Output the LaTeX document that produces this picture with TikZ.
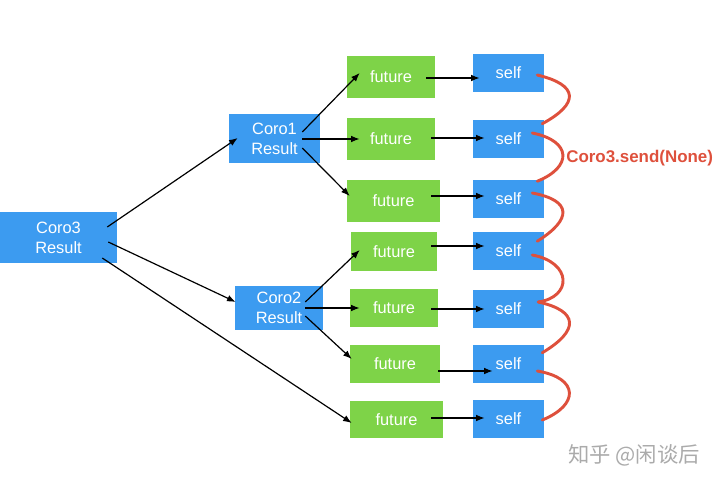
\documentclass[tikz,border=0pt]{standalone}
\usepackage{fontspec}
\setmainfont{Liberation Sans}
\newfontfamily\cjk{Noto Sans CJK SC}
\usetikzlibrary{arrows.meta}
\definecolor{boxblue}{RGB}{60,155,240}
\definecolor{boxgreen}{RGB}{126,211,72}
\definecolor{wavered}{RGB}{222,80,60}
\begin{document}
\begin{tikzpicture}[x=0.75pt,y=-0.75pt,
  bluebox/.style={fill=boxblue,draw=none,text=white,align=center,inner sep=0pt,font=\fontsize{12.3}{15}\selectfont},
  greenbox/.style={fill=boxgreen,draw=none,text=white,align=center,inner sep=0pt,font=\fontsize{12.3}{15}\selectfont},
  selfbox/.style={bluebox,minimum width=71*0.75pt,minimum height=38*0.75pt},
  arr/.style={-{Latex[length=6.5pt,width=5pt]},line width=0.9pt,black},
  wave/.style={wavered,line width=2.2pt,line cap=round}]
\useasboundingbox (0,0) rectangle (720,485);
% main nodes
\node[bluebox,minimum width=117*0.75pt,minimum height=51*0.75pt] (c3) at (58.5,237.5) {Coro3\\Result};
\node[bluebox,minimum width=91*0.75pt,minimum height=49*0.75pt] (c1) at (274.5,138.5) {Coro1\\Result};
\node[bluebox,minimum width=88*0.75pt,minimum height=44*0.75pt] (c2) at (279,308) {Coro2\\Result};
% futures
\node[greenbox,minimum width=88*0.75pt,minimum height=42*0.75pt] (f1) at (391,77) {future};
\node[greenbox,minimum width=88*0.75pt,minimum height=42*0.75pt] (f2) at (391,139) {future};
\node[greenbox,minimum width=93*0.75pt,minimum height=42*0.75pt] (f3) at (393.5,201) {future};
\node[greenbox,minimum width=86*0.75pt,minimum height=39*0.75pt] (f4) at (394,251.5) {future};
\node[greenbox,minimum width=88*0.75pt,minimum height=38*0.75pt] (f5) at (394,308) {future};
\node[greenbox,minimum width=90*0.75pt,minimum height=38*0.75pt] (f6) at (395,364) {future};
\node[greenbox,minimum width=93*0.75pt,minimum height=37*0.75pt] (f7) at (396.5,419.5) {future};
% selfs
\node[selfbox] (s1) at (508.5,73) {self};
\node[selfbox] (s2) at (508.5,139) {self};
\node[selfbox] (s3) at (508.5,198.5) {self};
\node[selfbox] (s4) at (508.5,250.5) {self};
\node[selfbox] (s5) at (508.5,309) {self};
\node[selfbox] (s6) at (508.5,364) {self};
\node[selfbox] (s7) at (508.5,419) {self};
% arrows from Coro3
\draw[arr] ([shift={(-10,-10.5)}]c3.east) -- ([shift={(9,-0.5)}]c1.west);
\draw[arr] ([shift={(-9,4.5)}]c3.east) -- ([shift={(1,-6)}]c2.west);
\draw[arr] ([shift={(-15,20.5)}]c3.east) -- ([shift={(2,3.5)}]f7.west);
% arrows from Coro1
\draw[arr] ([shift={(-18,-6.5)}]c1.east) -- ([shift={(13,-4)}]f1.west);
\draw[arr] ([shift={(-18,0.5)}]c1.east) -- ([shift={(13,0)}]f2.west);
\draw[arr] ([shift={(-18,9.5)}]c1.east) -- ([shift={(3,-5)}]f3.west);
% arrows from Coro2
\draw[arr] ([shift={(-18,-6)}]c2.east) -- ([shift={(9,-1.5)}]f4.west);
\draw[arr] ([shift={(-18,0)}]c2.east) -- ([shift={(10,0)}]f5.west);
\draw[arr] ([shift={(-18,8)}]c2.east) -- ([shift={(2,-5)}]f6.west);
% future -> self
\draw[arr] ([shift={(-9,1)}]f1.east) -- ([shift={(7,5)}]s1.west);
\draw[arr] ([shift={(-4,-1)}]f2.east) -- ([shift={(12,-1)}]s2.west);
\draw[arr] ([shift={(-9,-5)}]f3.east) -- ([shift={(12,-2.5)}]s3.west);
\draw[arr] ([shift={(-6,-5.5)}]f4.east) -- ([shift={(12,-4.5)}]s4.west);
\draw[arr] ([shift={(-7,1)}]f5.east) -- ([shift={(12,0)}]s5.west);
\draw[arr] ([shift={(-2,7)}]f6.east) -- ([shift={(20,7)}]s6.west);
\draw[arr] ([shift={(-12,-1.5)}]f7.east) -- ([shift={(12,-1)}]s7.west);
% red waves
\draw[wave] ([shift={(-7,2)}]s1.east) .. controls ([shift={(35,12)}]s1.east) and ([shift={(35,-16)}]s2.north east) .. ([shift={(-2,4)}]s2.north east);
\draw[wave] ([shift={(-12,-6)}]s2.east) .. controls ([shift={(28,2)}]s2.east) and ([shift={(28,-12)}]s3.north east) .. ([shift={(-7,2)}]s3.north east);
\draw[wave] ([shift={(-12,-5.5)}]s3.east) .. controls ([shift={(28,2)}]s3.east) and ([shift={(28,-12)}]s4.north east) .. ([shift={(-7,10)}]s4.north east);
\draw[wave] ([shift={(-12,4.5)}]s4.east) .. controls ([shift={(28,12)}]s4.east) and ([shift={(28,-12)}]s5.east) .. ([shift={(-6,-7)}]s5.east);
\draw[wave] ([shift={(-6,-7)}]s5.east) .. controls ([shift={(35,2)}]s5.east) and ([shift={(35,-14)}]s6.north east) .. ([shift={(-2,8)}]s6.north east);
\draw[wave] ([shift={(-7,7)}]s6.east) .. controls ([shift={(35,14)}]s6.east) and ([shift={(35,-14)}]s7.east) .. ([shift={(-2,1)}]s7.east);
% label
\node[anchor=west,inner sep=0pt,text=wavered,font=\fontsize{12.7}{15}\selectfont\bfseries] (lbl) at (566,158) {Coro3.send(None)};
% watermark
\node[anchor=west,inner sep=0pt,text=black!33,font=\fontsize{16}{19}\cjk] (wm) at (568,455) {知乎 @闲谈后};
\end{tikzpicture}
\end{document}
